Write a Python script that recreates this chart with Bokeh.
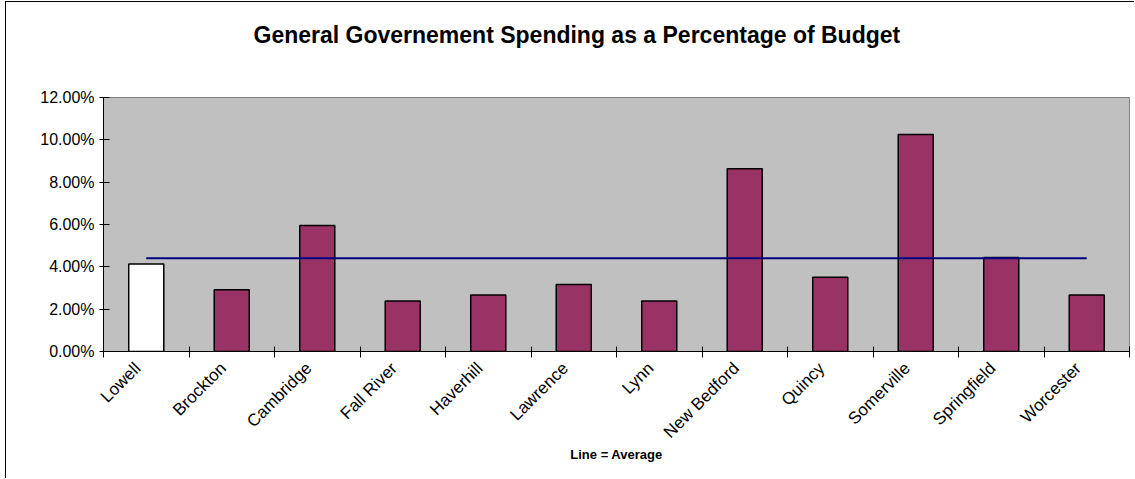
from bokeh.plotting import figure
from bokeh.models import FixedTicker, NumeralTickFormatter, Range1d, Title, ColumnDataSource
from bokeh.embed import file_html
from bokeh.resources import INLINE
import math

cities = ["Lowell", "Brockton", "Cambridge", "Fall River", "Haverhill", "Lawrence",
          "Lynn", "New Bedford", "Quincy", "Somerville", "Springfield", "Worcester"]
values = [0.0413, 0.0292, 0.0595, 0.0238, 0.0267, 0.0316,
          0.0238, 0.0863, 0.0351, 0.1025, 0.0444, 0.0267]
average = 0.0441
y_ticks = [0.0, 0.02, 0.04, 0.06, 0.08, 0.10, 0.12]
title_text = "General Governement Spending as a Percentage of Budget"

FONT = "Liberation Sans"

n = len(cities)
xs = [i + 0.5 for i in range(n)]
colors = ["white" if c == "Lowell" else "#993366" for c in cities]

p = figure(width=1129, height=477, x_range=Range1d(0, n), y_range=Range1d(0, 0.12),
           output_backend="svg", toolbar_location=None,
           min_border_left=97, min_border_right=6, min_border_top=95, min_border_bottom=128)
p.styles = {"margin-left": "5px", "margin-top": "1px",
            "border-left": "1px solid black", "border-top": "1px solid black"}

p.background_fill_color = "#C0C0C0"
p.border_fill_color = "white"
p.outline_line_color = "#808080"
p.outline_line_width = 1
p.xgrid.visible = False
p.ygrid.visible = False

src = ColumnDataSource(dict(x=xs, top=values, color=colors))
p.vbar(x="x", top="top", width=0.41, source=src, fill_color="color",
       line_color="black", line_width=1.5)

p.line(x=[xs[0], xs[-1]], y=[average, average], line_color="#000080", line_width=2)

# spacer between frame and title, then the title itself
spacer = Title(text=" ", text_font_size="1px", standoff=42)
p.add_layout(spacer, "above")
t = Title(text=title_text, align="left",
          text_font=FONT, text_font_size="23px", text_font_style="bold",
          text_color="black", offset=150, standoff=10)
p.add_layout(t, "above")

# y axis
yax = p.yaxis[0]
yax.ticker = FixedTicker(ticks=y_ticks)
yax.formatter = NumeralTickFormatter(format="0.00%")
yax.major_label_text_font = FONT
yax.major_label_text_font_size = "16px"
yax.major_label_text_color = "black"
yax.major_tick_in = 6
yax.major_tick_out = 4
yax.minor_tick_line_color = None
yax.axis_line_color = "black"
yax.major_tick_line_color = "black"
yax.major_label_standoff = 5

# x axis
label_pos = [i + 0.4 for i in range(n)]
xax = p.xaxis[0]
xax.ticker = FixedTicker(ticks=label_pos, minor_ticks=list(range(n + 1)))
xax.major_label_overrides = {pos: c for pos, c in zip(label_pos, cities)}
xax.major_label_orientation = math.pi / 4
xax.major_label_text_font = FONT
xax.major_label_text_font_size = "17px"
xax.major_label_text_color = "black"
xax.major_label_standoff = 8
xax.major_tick_in = 0
xax.major_tick_out = 0
xax.major_tick_line_color = None
xax.minor_tick_in = 5
xax.minor_tick_out = 6
xax.minor_tick_line_color = "black"
xax.axis_line_color = "black"
xax.axis_label = "Line = Average"
xax.axis_label_text_font = FONT
xax.axis_label_text_font_size = "13px"
xax.axis_label_text_font_style = "bold"
xax.axis_label_text_color = "black"
xax.axis_label_standoff = -4

open("out.html", "w").write(file_html(p, INLINE))
